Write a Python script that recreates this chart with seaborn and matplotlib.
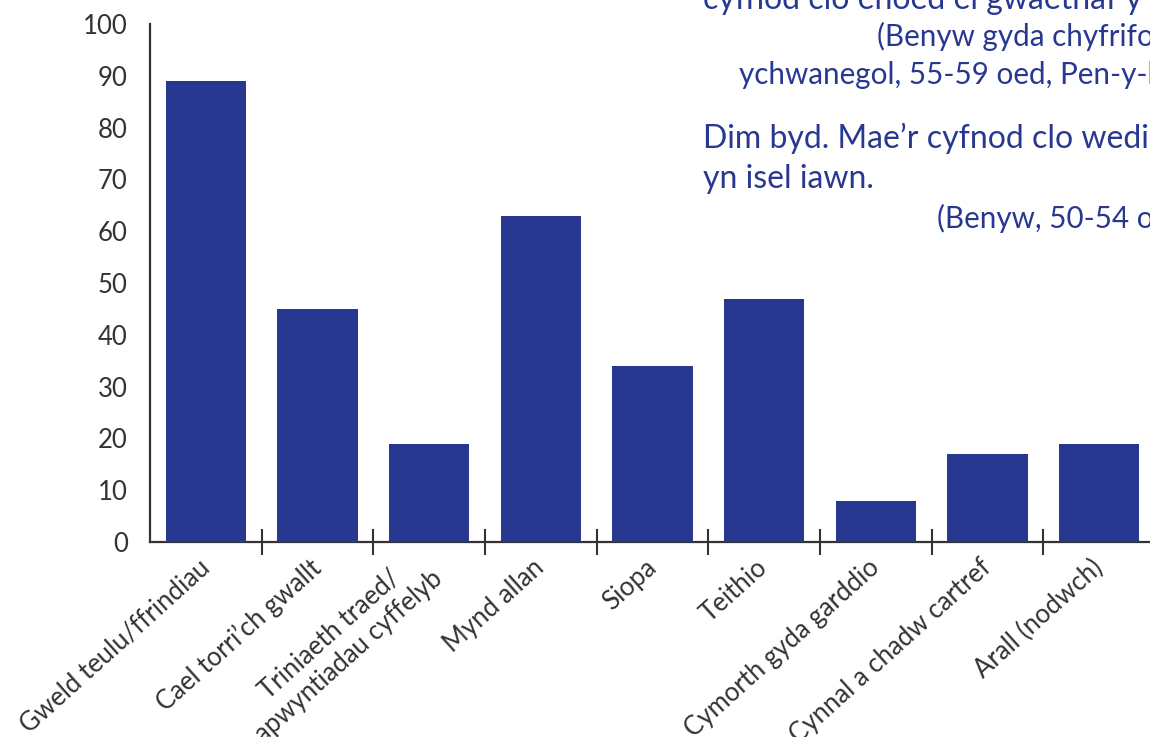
import numpy as np
import pandas as pd
import matplotlib
matplotlib.use("Agg")
import matplotlib.pyplot as plt
import seaborn as sns
from matplotlib.patches import Rectangle
from matplotlib.ticker import FixedLocator, FixedFormatter

# Survey responses: what people missed most during lockdown (%)
categories = [
    "Gweld teulu/ffrindiau",
    "Cael torri’ch gwallt",
    "Triniaeth traed/\napwyntiadau cyffelyb",
    "Mynd allan",
    "Siopa",
    "Teithio",
    "Cymorth gyda garddio",
    "Cynnal a chadw cartref",
    "Arall (nodwch)",
]
values = [89, 45, 19, 63, 34, 47, 8, 17, 19]
grid_levels = [0, 20, 40, 60, 80, 100]
label_levels = [0, 10, 20, 30, 40, 50, 60, 70, 80, 90, 100]

quote_lines = [
    "cyfnod clo ehoed ei gwaethaf y",
    "Dim byd. Mae’r cyfnod clo wedi",
    "yn isel iawn.",
]
attribution_lines = [
    "(Benyw gyda chyfrifoldebau",
    "ychwanegol, 55-59 oed, Pen-y-bont",
    "(Benyw, 50-54 oed",
]

BLUE = "#283891"
INK = "#333333"
GRID = "#c8c8c8"

sns.set_theme(style="white")
plt.rcParams["font.family"] = ["Lato", "DejaVu Sans"]

W, H = 1150, 737
fig = plt.figure(figsize=(W / 100, H / 100), dpi=100)
ax = fig.add_axes([150 / W, 195 / H, 1005 / W, 518 / H])

df = pd.DataFrame({"category": categories, "value": values})
sns.barplot(data=df, x="category", y="value", color=BLUE, saturation=1,
            width=0.72, ax=ax, zorder=3, edgecolor="none", linewidth=0)

ax.set_xlim(-0.5, len(categories) - 0.5)
ax.set_ylim(0, 100)
ax.set_xlabel("")
ax.set_ylabel("")

# y axis: gridlines every 20, labels every 10
ax.yaxis.set_major_locator(FixedLocator(label_levels))
ax.yaxis.set_major_formatter(FixedFormatter([str(v) for v in label_levels]))
ax.yaxis.set_minor_locator(FixedLocator(grid_levels))
ax.grid(False)
ax.yaxis.grid(True, which="minor", color=GRID, linewidth=1.3)
ax.set_axisbelow(True)
ax.tick_params(axis="y", which="both", length=0, pad=16, labelsize=18.5,
               labelcolor=INK)

# x axis: labels under bars, tick marks between categories
ax.set_xticks(range(len(categories)))
ax.set_xticklabels(categories, rotation=42, ha="right", va="center",
                   rotation_mode="anchor", multialignment="center")
ax.tick_params(axis="x", which="major", length=0, pad=16, labelsize=18.5,
               labelcolor=INK)
ax.set_xticks(np.arange(0.5, len(categories)), minor=True)
ax.tick_params(axis="x", which="minor", bottom=True, direction="inout",
               length=19, width=1.5, color=INK)

for side in ("top", "right"):
    ax.spines[side].set_visible(False)
for side in ("left", "bottom"):
    ax.spines[side].set_color(INK)
    ax.spines[side].set_linewidth(1.6)

# quotation panel on the upper right
fig.add_artist(Rectangle((663 / W, 1 - 265 / H), 1 - 663 / W, 265 / H,
                         transform=fig.transFigure, facecolor="white",
                         edgecolor="none", zorder=5))

qsize = 23
asize = 21.3
fig.text(703 / W, 1 - 9 / H, quote_lines[0], color=BLUE, fontsize=qsize,
         va="baseline", ha="left", zorder=6)
fig.text(877 / W, 1 - 46 / H, attribution_lines[0], color=BLUE,
         fontsize=asize, va="baseline", ha="left", zorder=6)
fig.text(739 / W, 1 - 84 / H, attribution_lines[1], color=BLUE,
         fontsize=asize, va="baseline", ha="left", zorder=6)
fig.text(703 / W, 1 - 148 / H, quote_lines[1], color=BLUE, fontsize=qsize,
         va="baseline", ha="left", zorder=6)
fig.text(703 / W, 1 - 188 / H, quote_lines[2], color=BLUE, fontsize=qsize,
         va="baseline", ha="left", zorder=6)
fig.text(937 / W, 1 - 228 / H, attribution_lines[2], color=BLUE,
         fontsize=asize, va="baseline", ha="left", zorder=6)

fig.savefig("out.png", dpi=100, facecolor="white")
